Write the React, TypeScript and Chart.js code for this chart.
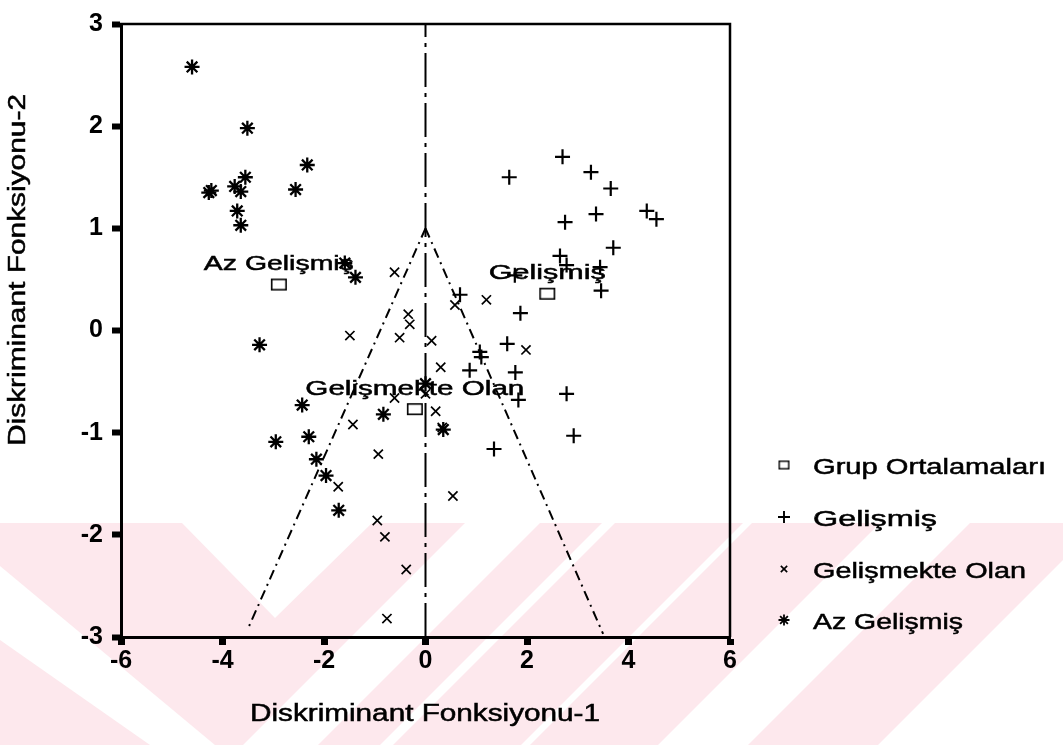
import React, { useEffect, useRef } from "react";
import { Chart, registerables } from "chart.js";
import { drawPoint } from "chart.js/helpers";

Chart.register(...registerables);

// ---------------- data ----------------
const seriesNames = ["Grup Ortalamaları", "Gelişmiş", "Gelişmekte Olan", "Az Gelişmiş"];

const groupNames = ["Az Gelişmiş", "Gelişmiş", "Gelişmekte Olan"];
const groupMeanX = [-2.89, 2.4, -0.21];
const groupMeanY = [0.45, 0.36, -0.77];

const gelismisX = [2.7, 3.26, 1.65, 3.65, 4.36, 4.55, 3.36, 2.75, 3.7, 2.65, 2.78, 3.44, 1.76, 3.46, 0.68, 1.87, 1.61, 1.07, 1.1, 0.87, 1.77, 2.78, 1.83, 2.92, 1.35];
const gelismisY = [1.7, 1.55, 1.5, 1.39, 1.17, 1.09, 1.14, 1.06, 0.81, 0.73, 0.64, 0.62, 0.54, 0.39, 0.35, 0.17, -0.13, -0.21, -0.26, -0.39, -0.41, -0.62, -0.68, -1.03, -1.16];

const gelismekteX = [-0.61, -0.34, -0.31, -1.49, -0.51, 0.12, 1.2, 0.58, 1.98, 0.3, -0.61, 0.2, -1.43, -0.93, -1.72, -0.95, -0.8, -0.38, -0.76, 0.54, 0.0, 0.33];
const gelismekteY = [0.57, 0.16, 0.06, -0.05, -0.07, -0.1, 0.3, 0.25, -0.19, -0.36, -0.66, -0.79, -0.92, -1.21, -1.53, -1.86, -2.02, -2.34, -2.82, -1.62, -0.62, -0.95];

const azX = [-4.6, -3.51, -2.33, -4.27, -4.22, -3.76, -3.55, -3.64, -2.56, -3.71, -3.64, -1.59, -1.38, -3.27, -2.43, -0.83, -2.95, -2.3, -2.15, -1.96, -1.71, 0.0, 0.35];
const azY = [2.58, 1.98, 1.62, 1.35, 1.37, 1.41, 1.5, 1.36, 1.38, 1.17, 1.03, 0.66, 0.52, -0.14, -0.73, -0.82, -1.09, -1.04, -1.26, -1.42, -1.76, -0.52, -0.97];

// territorial boundaries
const vLineX = [0, 0];
const vLineY = [-3, 3];
const leftLineX = [0, -3.5];
const leftLineY = [1, -2.92];
const rightLineX = [0, 3.5];
const rightLineY = [1, -2.97];

const xTickValues = [-6, -4, -2, 0, 2, 4, 6];
const yTickValues = [-3, -2, -1, 0, 1, 2, 3];

const xTitle = "Diskriminant Fonksiyonu-1";
const yTitle = "Diskriminant Fonksiyonu-2";

// ---------------- style ----------------
const FONT = 'Arial, "Liberation Sans", sans-serif';
const PINK = "#fde8ed";

const pts = (xs: number[], ys: number[]) => xs.map((x, i) => ({ x, y: ys[i] }));

// watermark shapes (background decoration, pixel space)
const watermark: number[][][] = [
  [[0, 523], [182, 523], [275, 618], [372, 523], [465, 523], [243, 745], [215, 745], [0, 566]],
  [[0, 640], [0, 745], [150, 745]],
  [[540, 523], [602, 523], [380, 745], [318, 745]],
  [[615, 523], [743, 523], [521, 745], [393, 745]],
  [[752, 523], [880, 523], [658, 745], [530, 745]],
  [[970, 523], [1063, 523], [1063, 560], [878, 745], [748, 745]],
];

function makeMeanMarker(w: number, h: number, lw: number) {
  const c = document.createElement("canvas");
  c.width = w + 2;
  c.height = h + 2;
  const g = c.getContext("2d")!;
  g.fillStyle = "#fff";
  g.fillRect(1, 1, w, h);
  g.strokeStyle = "#000";
  g.lineWidth = lw;
  g.strokeRect(1 + lw / 2, 1 + lw / 2, w - lw, h - lw);
  return c;
}

function stretchText(ctx: CanvasRenderingContext2D, text: string, x: number, y: number, size: number, targetW: number, align: CanvasTextAlign, rot = 0) {
  ctx.save();
  ctx.font = `${size}px ${FONT}`;
  const w = ctx.measureText(text).width;
  const sx = targetW / w;
  ctx.translate(x, y);
  if (rot) ctx.rotate(rot);
  ctx.scale(sx, 1);
  ctx.textAlign = align;
  ctx.textBaseline = "middle";
  ctx.fillStyle = "#000";
  ctx.strokeStyle = "#000";
  ctx.lineWidth = 0.5;
  ctx.fillText(text, 0, 0);
  ctx.strokeText(text, 0, 0);
  ctx.restore();
}

const decor = {
  id: "decor",
  beforeDraw(chart: any) {
    const ctx = chart.ctx as CanvasRenderingContext2D;
    ctx.save();
    ctx.fillStyle = "#fff";
    ctx.fillRect(0, 0, chart.width, chart.height);
    ctx.fillStyle = PINK;
    for (const poly of watermark) {
      ctx.beginPath();
      poly.forEach(([px, py], i) => (i ? ctx.lineTo(px, py) : ctx.moveTo(px, py)));
      ctx.closePath();
      ctx.fill();
    }
    ctx.restore();
  },
  afterDatasetsDraw(chart: any) {
    const ctx = chart.ctx as CanvasRenderingContext2D;
    const { left, right, top, bottom } = chart.chartArea;
    ctx.save();
    ctx.strokeStyle = "#000";
    ctx.lineWidth = 2.5;
    ctx.beginPath();
    ctx.moveTo(left - 8, top);
    ctx.lineTo(right, top);
    ctx.lineTo(right, bottom);
    ctx.stroke();
    ctx.restore();
    const xs = chart.scales.x;
    const ys = chart.scales.y;
    const widths = [150, 117, 219];
    groupNames.forEach((name, i) => {
      const px = xs.getPixelForValue(groupMeanX[i]);
      const py = ys.getPixelForValue(groupMeanY[i]);
      stretchText(ctx, name, px, py - 20, 20, widths[i], "center");
    });
  },
  afterDraw(chart: any) {
    const ctx = chart.ctx as CanvasRenderingContext2D;
    // axis titles
    stretchText(ctx, xTitle, 425, 715, 23, 350, "center");
    stretchText(ctx, yTitle, 19, 270, 23, 352, "center", -Math.PI / 2);
    // legend
    const rows = [468, 520, 572, 623];
    const widths = [233, 124, 213, 150];
    const styles: any[] = [makeMeanMarker(11, 9, 1.4), "cross", "crossRot", "star"];
    const radii = [6, 6, 4.5, 5.5];
    const lw = [1.4, 1.9, 1.6, 1.8];
    seriesNames.forEach((name, i) => {
      ctx.save();
      ctx.strokeStyle = "#000";
      ctx.fillStyle = "#fff";
      ctx.lineWidth = lw[i];
      drawPoint(ctx, { pointStyle: styles[i], radius: radii[i], rotation: 0, borderWidth: lw[i] } as any, 784, rows[i] - 3);
      ctx.restore();
      stretchText(ctx, name, 813, rows[i], 22, widths[i], "left");
    });
  },
};

export default function App() {
  const ref = useRef<HTMLCanvasElement | null>(null);
  useEffect(() => {
    if (!ref.current) return;
    const lineDs = (xs: number[], ys: number[], dash: number[]) => ({
      type: "line" as const,
      data: pts(xs, ys),
      borderColor: "#000",
      borderWidth: 2,
      borderDash: dash,
      pointRadius: 0,
      fill: false,
      showLine: true,
      order: 10,
    });
    const meanMarker = makeMeanMarker(16, 12, 1.6);
    const chart = new Chart(ref.current, {
      type: "scatter",
      data: {
        datasets: [
          lineDs(vLineX, vLineY, [34, 6, 4, 6]),
          lineDs(leftLineX, leftLineY, [10, 5, 2, 5]),
          lineDs(rightLineX, rightLineY, [10, 5, 2, 5]),
          {
            label: seriesNames[0],
            data: pts(groupMeanX, groupMeanY),
            pointStyle: meanMarker,
            pointRadius: 8,
            backgroundColor: "#fff",
            borderColor: "#000",
            borderWidth: 1.5,
            order: 1,
          },
          {
            label: seriesNames[1],
            data: pts(gelismisX, gelismisY),
            pointStyle: "cross",
            pointRadius: 7.5,
            borderColor: "#000",
            borderWidth: 2.2,
            order: 2,
          },
          {
            label: seriesNames[2],
            data: pts(gelismekteX, gelismekteY),
            pointStyle: "crossRot",
            pointRadius: 6.5,
            borderColor: "#000",
            borderWidth: 1.7,
            order: 3,
          },
          {
            label: seriesNames[3],
            data: pts(azX, azY),
            pointStyle: "star",
            pointRadius: 7.5,
            borderColor: "#000",
            borderWidth: 2.3,
            order: 4,
          },
        ] as any,
      },
      options: {
        animation: false,
        responsive: false,
        devicePixelRatio: 1,
        layout: { padding: { left: 0, right: 333, top: 12, bottom: 0 } },
        plugins: { legend: { display: false }, tooltip: { enabled: false } },
        scales: {
          x: {
            type: "linear",
            min: -6,
            max: 6,
            afterBuildTicks: (s: any) => { s.ticks = xTickValues.map((v) => ({ value: v })); },
            afterFit: (s: any) => { s.height = 108; },
            ticks: { color: "#000", font: { family: FONT, size: 25, weight: "bold" }, padding: 1 },
            grid: { display: true, drawOnChartArea: false, drawTicks: true, tickLength: 8, tickWidth: 7, tickColor: "#000" },
            border: { display: true, color: "#000", width: 3 },
          },
          y: {
            type: "linear",
            min: -3,
            max: 3,
            afterBuildTicks: (s: any) => { s.ticks = yTickValues.map((v) => ({ value: v })); },
            afterFit: (s: any) => { s.width = 121; },
            ticks: { color: "#000", font: { family: FONT, size: 25, weight: "bold" }, padding: 9 },
            grid: { display: true, drawOnChartArea: false, drawTicks: true, tickLength: 9, tickWidth: 6, tickColor: "#000" },
            border: { display: true, color: "#000", width: 3 },
          },
        },
      } as any,
      plugins: [decor],
    });
    return () => chart.destroy();
  }, []);
  return (
    <div style={{ position: "fixed", left: 0, top: 0, width: 1063, height: 745 }}>
      <canvas ref={ref} width={1063} height={745} style={{ display: "block", width: 1063, height: 745 }} />
    </div>
  );
}
